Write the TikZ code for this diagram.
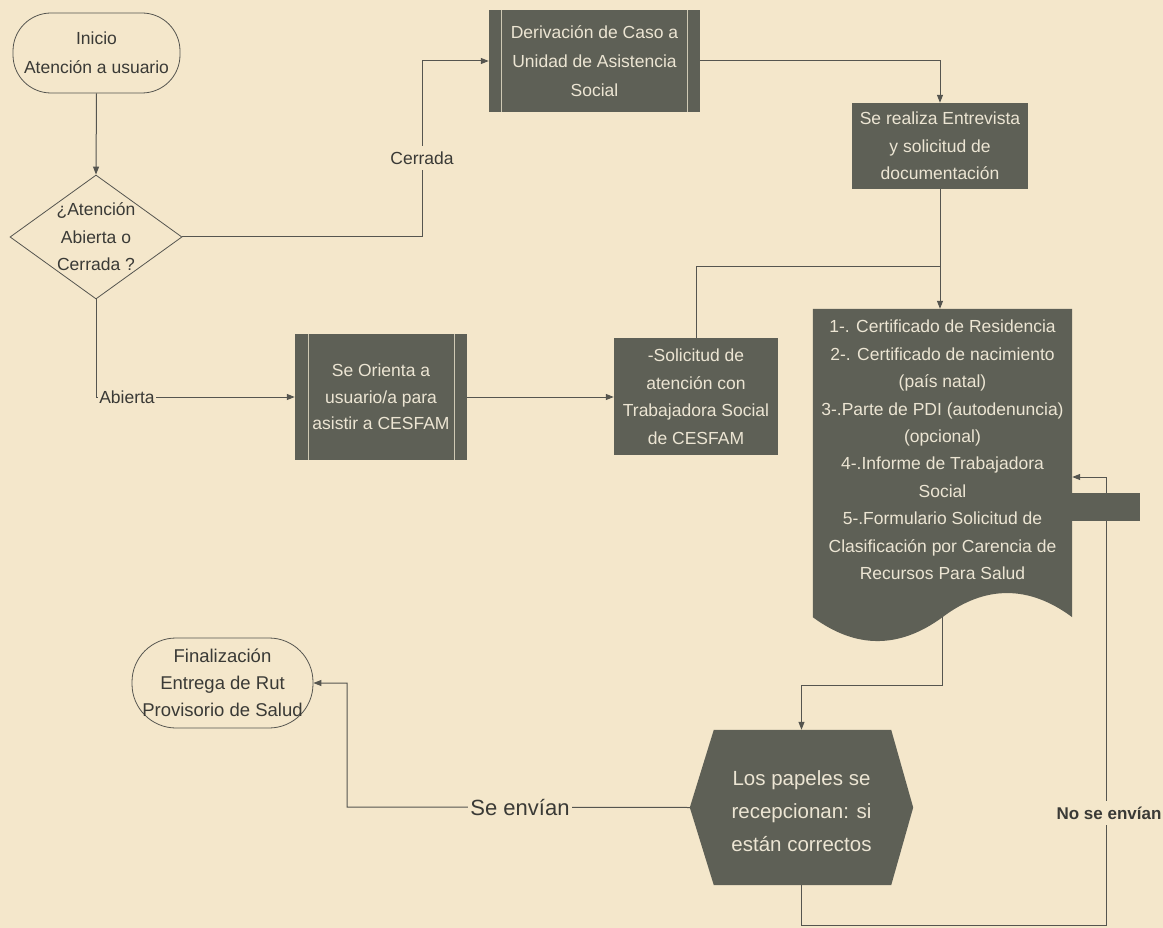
\documentclass[tikz,border=0pt]{standalone}
\usepackage{fontspec}
\setmainfont{Liberation Sans}
\usetikzlibrary{arrows.meta,shapes.geometric}
\definecolor{bg}{HTML}{F4E7CB}
\definecolor{boxc}{HTML}{5E6056}
\definecolor{boxt}{HTML}{ECE5D3}
\definecolor{linec}{HTML}{55554F}
\definecolor{labc}{HTML}{3A3A36}
\definecolor{innerl}{HTML}{CFC9B4}
\begin{document}
\begin{tikzpicture}[x=1pt,y=-1pt,
  every node/.style={font=\fontsize{17.5pt}{27.5pt}\selectfont, inner sep=0pt},
  proc/.style={rectangle, fill=boxc, text=boxt, align=center},
  term/.style={rectangle, draw=linec, line width=0.8pt, text=labc, align=center},
  conn/.style={draw=linec, line width=1pt},
  arr/.style={conn, -{Triangle[length=8pt,width=6pt]}},
  lab/.style={fill=bg, text=labc, inner xsep=2pt, inner ysep=6pt},
  innerline/.style={draw=innerl, line width=1pt}
]
\fill[bg] (0,0) rectangle (1163,928);
\useasboundingbox (0,0) rectangle (1163,928);

% helper coordinates
\coordinate (h267) at (0,267);
\coordinate (h685) at (0,685);
\coordinate (c1) at (422,61);
\coordinate (c2) at (347,807);
\coordinate (c3) at (1106,925);
\coordinate (c4) at (1106,477);

% terminals and decision
\node[term, rounded corners=38pt, minimum width=167pt, minimum height=80pt,
      font=\fontsize{17.5pt}{29pt}\selectfont] (ini) at (96.5,53) {Inicio\\Atención a usuario};
\node[diamond, draw=linec, line width=0.8pt, minimum width=172pt, minimum height=124pt,
      aspect=1.38] (dec) at (96,237) {};
\node[text=labc, align=center] (dect) at (dec) {¿Atención\\Abierta o\\Cerrada ?};

% process boxes
\node[proc, minimum width=211pt, minimum height=102pt,
      font=\fontsize{17.5pt}{29pt}\selectfont] (der) at (594.5,61)
      {Derivación de Caso a\\Unidad de Asistencia\\Social};
\draw[innerline] ([xshift=13pt]der.north west) -- ([xshift=13pt]der.south west)
                 ([xshift=-13pt]der.north east) -- ([xshift=-13pt]der.south east);

\node[proc, minimum width=176pt, minimum height=86pt] (se) at (940,146)
      {Se realiza Entrevista\\y solicitud de\\documentación};

\node[proc, minimum width=172pt, minimum height=126pt,
      font=\fontsize{17.5pt}{26.5pt}\selectfont] (ori) at (381,397)
      {Se Orienta a\\usuario/a para\\asistir a CESFAM};
\draw[innerline] ([xshift=14pt]ori.north west) -- ([xshift=14pt]ori.south west)
                 ([xshift=-13pt]ori.north east) -- ([xshift=-13pt]ori.south east);

\node[proc, minimum width=164pt, minimum height=117pt] (sol) at (696,396.5)
      {-Solicitud de\\atención con\\Trabajadora Social\\de CESFAM};

% document shape
\node[minimum width=259pt, minimum height=308pt] (doc) at (942.5,463) {};
\fill[boxc] (doc.north west) -- (doc.north east) -- (doc.south east)
   .. controls (1029,585) and (985,585) .. (doc.south)
   .. controls (899,649) and (856,649) .. (doc.south west) -- cycle;
\node[text=boxt, align=center, font=\fontsize{17.5pt}{27.4pt}\selectfont] (doct) at (942.5,450)
  {1-. Certificado de Residencia\\2-. Certificado de nacimiento\\(país natal)\\3-.Parte de PDI (autodenuncia)\\(opcional)\\4-.Informe de Trabajadora\\Social\\5-.Formulario Solicitud de\\Clasificación por  Carencia de\\Recursos Para Salud};

% hexagon
\node[minimum width=223pt, minimum height=155pt] (hex) at (801.5,807.5) {};
\fill[boxc] (hex.west) -- ([xshift=24pt]hex.north west) -- ([xshift=-22pt]hex.north east)
   -- (hex.east) -- ([xshift=-22pt]hex.south east) -- ([xshift=24pt]hex.south west) -- cycle;
\node[text=boxt, align=center, font=\fontsize{20.5pt}{33pt}\selectfont] (hext) at (801.5,811)
  {Los papeles se\\recepcionan: si\\están correctos};

% end terminal
\node[term, rounded corners=44pt, minimum width=181pt, minimum height=90pt,
      font=\fontsize{18.5pt}{27pt}\selectfont] (fin) at (222.5,683)
      {Finalización\\Entrega de Rut\\Provisorio de Salud};

% connectors
\draw[arr] (ini.south) -- (dec.north);
\draw[arr] (dec.east) -| (c1) -- (der.west);
\node[lab] (lcer) at (422,158) {Cerrada};
\draw[arr] (der.east) -| (se.north);
\draw[arr] (se.south) -- (se.south |- doc.north);
\draw[conn] (sol.north) |- (se.south |- h267);
\draw[arr] (dec.south) |- (ori.west);
\node[lab, inner xsep=1pt] (labi) at (127,397) {Abierta};
\draw[arr] (ori.east) -- (ori.east -| sol.west);
\draw[arr] (doc.south) -- (doc.south |- h685) -| (hex.north);
\draw[arr] (hex.west) -- (c2) |- (fin.east);
\node[lab, font=\fontsize{22pt}{22pt}\selectfont] (lenv) at (520,808) {Se envían};
\draw[arr] (hex.south) |- (c3) -- (c4) -- (c4 -| doc.east);
\node[lab, font=\bfseries\fontsize{17pt}{17pt}\selectfont] (lno) at (1109,813) {No se envían};

% dark bar
\fill[boxc] (1072,493) rectangle (1140,521);
\end{tikzpicture}
\end{document}
